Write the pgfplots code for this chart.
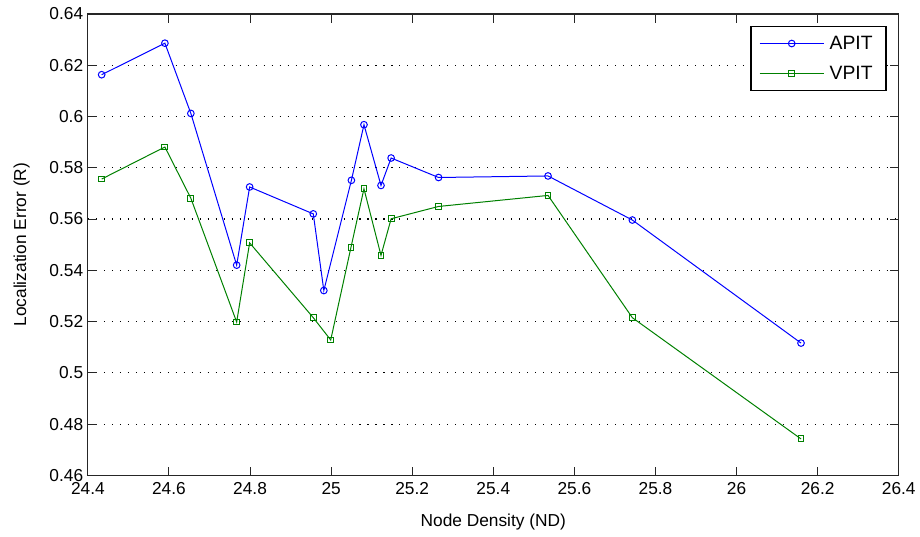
\documentclass[border=0pt]{standalone}
\usepackage{pgfplots}
\pgfplotsset{compat=1.18}
\usepackage{fontspec}
\setmainfont{Liberation Sans}
\definecolor{mgreen}{rgb}{0,0.5,0}
\begin{document}
\begin{tikzpicture}
\begin{axis}[
  scale only axis,
  width=609pt,
  height=346.5pt,
  xmin=24.4, xmax=26.4,
  ymin=0.46, ymax=0.64,
  xtick={24.4,24.6,24.8,25,25.2,25.4,25.6,25.8,26,26.2,26.4},
  ytick={0.46,0.48,0.5,0.52,0.54,0.56,0.58,0.6,0.62,0.64},
  xticklabels={24.4,24.6,24.8,25,25.2,25.4,25.6,25.8,26,26.2,26.4},
  yticklabels={0.46,0.48,0.5,0.52,0.54,0.56,0.58,0.6,0.62,0.64},
  tick align=inside,
  major tick length=6.5pt,
  axis line style={black!85, line width=0.9pt},
  tick style={black!85, line width=0.7pt},
  ymajorgrids,
  grid style={black, line width=0.8pt, dash pattern=on 0.8pt off 5.2pt},
  tick label style={font=\fontsize{13}{15}\selectfont},
  xticklabel style={yshift=-1.5pt},
  label style={font=\fontsize{13}{15}\selectfont},
  xlabel={Node Density (ND)},
  ylabel={Localization Error (R)},
  xlabel style={yshift=-8pt},
  ylabel style={yshift=8pt},
  /pgf/number format/assume math mode=true,
  legend style={font=\fontsize{14.5}{16}\selectfont, at={(0.985,0.974)}, anchor=north east,
    draw=black, line width=0.9pt, inner xsep=6pt, inner ysep=5pt, row sep=7pt,
    nodes={inner xsep=4pt}},
  legend cell align=left,
  legend image code/.code={\draw[mark repeat=2,mark phase=2,#1] plot coordinates {(0cm,0cm) (0.85cm,0cm) (1.7cm,0cm)};},
]
\addplot[color=blue, line width=0.75pt, mark=o, mark size=2.5pt, mark options={solid}] coordinates {
(24.434,0.6163) (24.590,0.6286) (24.654,0.6012) (24.767,0.5420) (24.799,0.5725)
(24.956,0.5620) (24.982,0.5321) (25.050,0.5751) (25.081,0.5968) (25.123,0.5731)
(25.148,0.5838) (25.265,0.5762) (25.535,0.5768) (25.743,0.5596) (26.159,0.5116)};
\addlegendentry{APIT}
\addplot[color=mgreen, line width=0.75pt, mark=square, mark size=2.2pt, mark options={solid}] coordinates {
(24.434,0.5756) (24.590,0.5881) (24.654,0.5681) (24.767,0.5198) (24.799,0.5507)
(24.956,0.5215) (24.999,0.5128) (25.049,0.5490) (25.081,0.5718) (25.123,0.5458)
(25.148,0.5601) (25.265,0.5649) (25.535,0.5692) (25.743,0.5215) (26.159,0.4742)};
\addlegendentry{VPIT}
\end{axis}
\path ([shift={(-66pt,-45.75pt)}]current axis.south west) rectangle ([shift={(15pt,10.5pt)}]current axis.north east);
\end{tikzpicture}
\end{document}
